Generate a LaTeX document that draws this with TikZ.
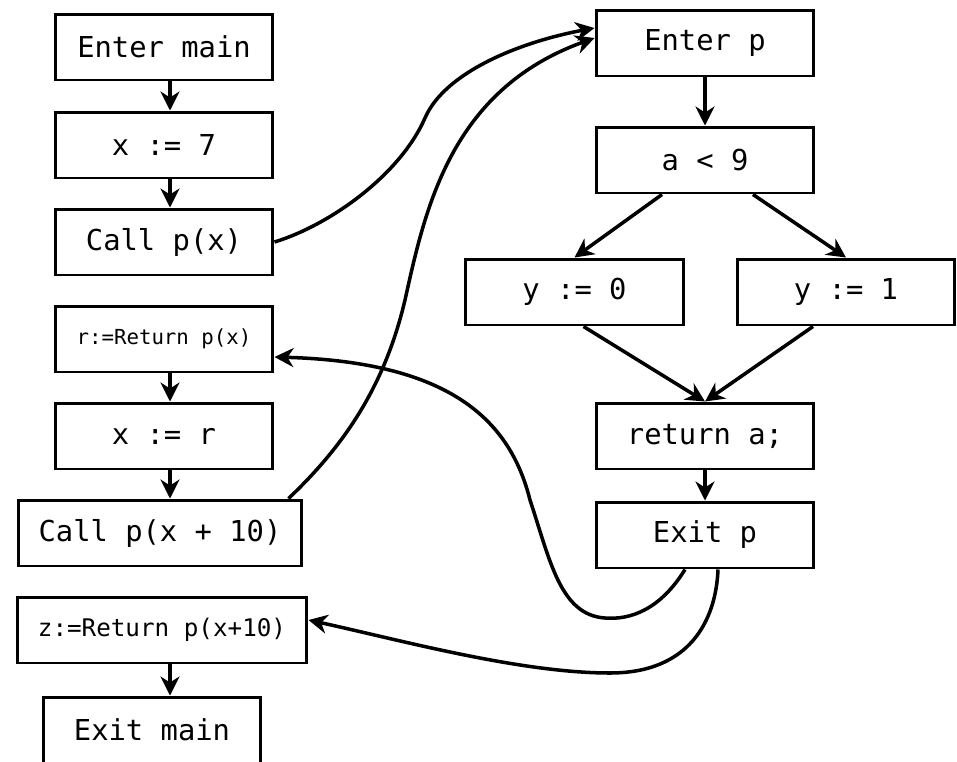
\documentclass[tikz,border=0pt]{standalone}
\usepackage{fontspec}
\setmonofont{DejaVu Sans Mono}
\usetikzlibrary{arrows.meta}
\begin{document}
\begin{tikzpicture}[x=0.02cm,y=-0.02cm,
  blk/.style={draw, line width=1.7pt, minimum height=1.32cm, inner sep=0pt,
    font=\ttfamily\fontsize{16.4}{18}\selectfont},
  w/.style={minimum width=4.36cm},
  flow/.style={line width=2pt, -{Stealth[length=0.38cm,width=0.38cm,inset=0.12cm]}},
]
\useasboundingbox (0,0) rectangle (957,761);
% left column (main)
\node[blk,w] (em)  at (164,47)  {Enter main};
\node[blk,w] (x7)  at (164,145) {x := 7};
\node[blk,w] (cp1) at (164,242) {Call p(x)};
\node[blk,w,font=\ttfamily\fontsize{11.8}{14}\selectfont] (r1) at (164,339) {r:=Return p(x)};
\node[blk,w] (xr)  at (164,436) {x := r};
\node[blk,minimum width=5.68cm] (cp2) at (160,533) {Call p(x + 10)};
\node[blk,minimum width=5.8cm,font=\ttfamily\fontsize{13.8}{16}\selectfont] (r2) at (162,630) {z:=Return p(x+10)};
\node[blk,w] (xm)  at (152,730) {Exit main};
% right column (p)
\node[blk,w] (ep)  at (705,43)  {Enter p};
\node[blk,w] (cmp) at (705,160) {a < 9};
\node[blk,minimum width=4.38cm] (y0) at (574.5,292) {y := 0};
\node[blk,minimum width=4.36cm] (y1) at (846,292) {y := 1};
\node[blk,w] (ret) at (705,436) {return a;};
\node[blk,w] (xp)  at (705,535) {Exit p};
\coordinate (lc) at (170,0);
% straight edges
\draw[flow] (em.south -| lc) -- (x7.north -| lc);
\draw[flow] (x7.south -| lc) -- (cp1.north -| lc);
\draw[flow] (r1.south -| lc) -- (xr.north -| lc);
\draw[flow] (xr.south -| lc) -- (cp2.north -| lc);
\draw[flow] (r2.south -| lc) -- (xm.north -| lc);
\draw[flow] (ep) -- (cmp);
\draw[flow] ([xshift=-0.86cm]cmp.south) -- (y0.north);
\draw[flow] ([xshift=0.96cm]cmp.south) -- (y1.north);
\draw[flow] ([xshift=0.18cm]y0.south) -- (ret.north);
\draw[flow] ([xshift=-0.66cm]y1.south) -- (ret.north);
\draw[flow] (ret) -- (xp);
% call edges
\draw[flow] (cp1.east) .. controls (330,225) and (400,175) .. (425,118)
  .. controls (445,72) and (520,42) .. ([yshift=0.3cm]ep.west);
\draw[flow] ([xshift=-0.3cm]cp2.north east) .. controls (345,445) and (385,385) .. (405,300)
  .. controls (425,210) and (450,90) .. ([yshift=0.1cm]ep.west);
% return edges
\draw[flow] ([xshift=-0.4cm]xp.south) .. controls (660,610) and (630,620) .. (605,618)
  .. controls (560,615) and (550,560) .. (530,500)
  .. controls (510,420) and (450,362) .. ([yshift=-0.36cm]r1.east);
\draw[flow] ([xshift=0.26cm]xp.south) .. controls (716,620) and (690,673) .. (610,673)
  .. controls (520,673) and (400,640) .. ([yshift=0.2cm]r2.east);
\end{tikzpicture}
\end{document}
